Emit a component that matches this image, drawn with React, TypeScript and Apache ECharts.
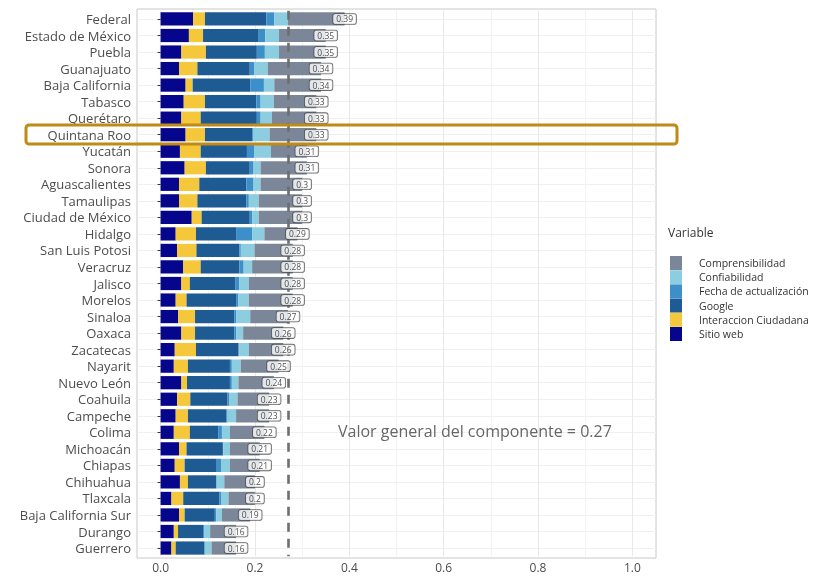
import React, { useEffect, useRef } from 'react';
import * as echarts from 'echarts';

const categories = ['Federal', 'Estado de México', 'Puebla', 'Guanajuato', 'Baja California', 'Tabasco', 'Querétaro', 'Quintana Roo', 'Yucatán', 'Sonora', 'Aguascalientes', 'Tamaulipas', 'Ciudad de México', 'Hidalgo', 'San Luis Potosi', 'Veracruz', 'Jalisco', 'Morelos', 'Sinaloa', 'Oaxaca', 'Zacatecas', 'Nayarit', 'Nuevo León', 'Coahuila', 'Campeche', 'Colima', 'Michoacán', 'Chiapas', 'Chihuahua', 'Tlaxcala', 'Baja California Sur', 'Durango', 'Guerrero'];

const totals = [0.39, 0.35, 0.35, 0.34, 0.34, 0.33, 0.33, 0.33, 0.31, 0.31, 0.3, 0.3, 0.3, 0.29, 0.28, 0.28, 0.28, 0.28, 0.27, 0.26, 0.26, 0.25, 0.24, 0.23, 0.23, 0.22, 0.21, 0.21, 0.2, 0.2, 0.19, 0.16, 0.16];

const sitioWeb = [0.069, 0.060, 0.044, 0.039, 0.053, 0.049, 0.044, 0.053, 0.041, 0.051, 0.039, 0.039, 0.066, 0.032, 0.035, 0.048, 0.044, 0.032, 0.037, 0.044, 0.030, 0.028, 0.044, 0.035, 0.032, 0.028, 0.039, 0.030, 0.041, 0.023, 0.039, 0.028, 0.023];
const interaccion = [0.025, 0.030, 0.052, 0.039, 0.015, 0.045, 0.041, 0.041, 0.044, 0.045, 0.043, 0.039, 0.021, 0.043, 0.041, 0.037, 0.018, 0.023, 0.036, 0.029, 0.045, 0.030, 0.012, 0.028, 0.026, 0.034, 0.016, 0.021, 0.017, 0.025, 0.012, 0.009, 0.009];
const google = [0.130, 0.118, 0.108, 0.111, 0.122, 0.109, 0.119, 0.100, 0.098, 0.093, 0.100, 0.104, 0.102, 0.085, 0.091, 0.082, 0.096, 0.105, 0.083, 0.083, 0.090, 0.089, 0.091, 0.079, 0.081, 0.060, 0.077, 0.068, 0.060, 0.077, 0.064, 0.053, 0.061];
const fecha = [0.017, 0.014, 0.017, 0.010, 0.029, 0.009, 0.008, 0.003, 0.016, 0.008, 0.015, 0.005, 0.005, 0.034, 0.003, 0.009, 0.009, 0.005, 0.004, 0.004, 0.002, 0.004, 0.004, 0.004, 0.003, 0.008, 0.001, 0.009, 0.001, 0.003, 0.003, 0.003, 0.001];
const confiabilidad = [0.029, 0.029, 0.030, 0.028, 0.022, 0.028, 0.024, 0.034, 0.035, 0.015, 0.015, 0.021, 0.014, 0.026, 0.029, 0.018, 0.020, 0.022, 0.030, 0.015, 0.020, 0.019, 0.014, 0.017, 0.018, 0.017, 0.014, 0.019, 0.016, 0.016, 0.012, 0.012, 0.014];
const comprensibilidad = [0.120, 0.099, 0.099, 0.113, 0.099, 0.090, 0.094, 0.099, 0.076, 0.098, 0.088, 0.092, 0.092, 0.070, 0.081, 0.086, 0.093, 0.093, 0.080, 0.085, 0.073, 0.080, 0.075, 0.067, 0.070, 0.073, 0.063, 0.063, 0.065, 0.056, 0.060, 0.055, 0.052];

const generalValue = 0.27;
const legendOrder = ['Comprensibilidad', 'Confiabilidad', 'Fecha de actualización', 'Google', 'Interaccion Ciudadana', 'Sitio web'];

const FONT = "'Open Sans', sans-serif";

export default function App() {
  const ref = useRef<HTMLDivElement>(null);
  useEffect(() => {
    const chart = echarts.init(ref.current!, null, { renderer: 'svg' });
    const mkBar = (name: string, data: number[], color: string) => ({
      type: 'bar',
      name,
      stack: 'total',
      data,
      barWidth: '80%',
      itemStyle: { color },
      silent: true,
      emphasis: { disabled: true },
    });
    chart.setOption({
      animation: false,
      textStyle: { fontFamily: FONT },
      grid: { left: 137, right: 161, top: 10.7, bottom: 19.7, containLabel: false },
      xAxis: {
        type: 'value',
        min: -0.05,
        max: 1.05,
        interval: 0.05,
        axisLine: { show: false },
        axisTick: { show: false },
        axisLabel: {
          fontSize: 12,
          color: '#4d4d4d',
          fontFamily: FONT,
          margin: 5,
          formatter: (v: number) => {
            const r = Math.round(v * 100);
            return r >= 0 && r % 20 === 0 ? (r / 100).toFixed(1) : '';
          },
        },
        splitLine: {
          show: true,
          lineStyle: { color: ['rgba(0,0,0,0)', '#e8e8e8', 'rgba(0,0,0,0)', '#f2f2f2'], width: 1 },
        },
      },
      yAxis: {
        type: 'category',
        data: categories,
        inverse: true,
        axisLine: { show: false },
        axisTick: { show: true, length: 3, alignWithLabel: true, lineStyle: { color: '#333' } },
        axisLabel: { interval: 0, fontSize: 13, lineHeight: 15, color: '#4d4d4d', margin: 6, fontFamily: FONT },
        splitLine: { show: true, alignWithLabel: true, lineStyle: { color: '#f0f0f0' } },
      },
      legend: {
        orient: 'vertical',
        left: 670,
        top: 256,
        padding: 0,
        itemWidth: 12,
        itemHeight: 14,
        itemGap: 0.2,
        icon: 'rect',
        data: legendOrder,
        selectedMode: false,
        textStyle: { fontSize: 10.5, color: '#333', fontFamily: FONT, padding: [0, 0, 0, 12] },
      },
      series: [
        mkBar('Sitio web', sitioWeb, '#06068c'),
        mkBar('Interaccion Ciudadana', interaccion, '#f5c73a'),
        mkBar('Google', google, '#1f5b93'),
        mkBar('Fecha de actualización', fecha, '#3c8fc8'),
        mkBar('Confiabilidad', confiabilidad, '#8ccde0'),
        mkBar('Comprensibilidad', comprensibilidad, '#7b8798'),
        {
          type: 'scatter',
          name: 'total',
          data: totals.map((t, i) => [t, categories[i]]),
          symbolSize: 1,
          itemStyle: { color: 'rgba(0,0,0,0)' },
          silent: true,
          z: 5,
          label: {
            show: true,
            position: 'inside',
            formatter: (p: any) => String(p.value[0]),
            fontSize: 8.5,
            color: '#222',
            fontFamily: FONT,
            backgroundColor: '#ffffff',
            borderColor: '#444',
            borderWidth: 0.8,
            borderRadius: 2,
            padding: [1, 3, 0, 3],
          },
          markLine: {
            silent: true,
            symbol: ['none', 'none'],
            label: { show: false },
            lineStyle: { type: [9, 7], color: '#6e6e6e', width: 2.6 },
            data: [{ xAxis: generalValue }],
          },
        },
      ],
      graphic: [
        {
          type: 'rect',
          shape: { x: 137, y: 9, width: 519, height: 549 },
          style: { fill: 'none', stroke: '#c8c8c8', lineWidth: 1 },
          silent: true,
        },
        {
          type: 'text',
          x: 668,
          y: 226,
          style: { text: 'Variable', fontSize: 12, fill: '#333', fontFamily: FONT },
        },
        {
          type: 'text',
          x: 338,
          y: 423,
          z: 50,
          style: { text: 'Valor general del componente = ' + generalValue, fontSize: 16, fill: '#666', fontFamily: FONT },
        },
        {
          type: 'rect',
          shape: { x: 26, y: 125, width: 651, height: 19, r: 3 },
          style: { fill: 'none', stroke: '#bf8a16', lineWidth: 3 },
          z: 100,
          silent: true,
        },
      ],
    });
    return () => chart.dispose();
  }, []);
  return <div ref={ref} style={{ position: 'fixed', left: 0, top: 0, width: 817, height: 576 }} />;
}
